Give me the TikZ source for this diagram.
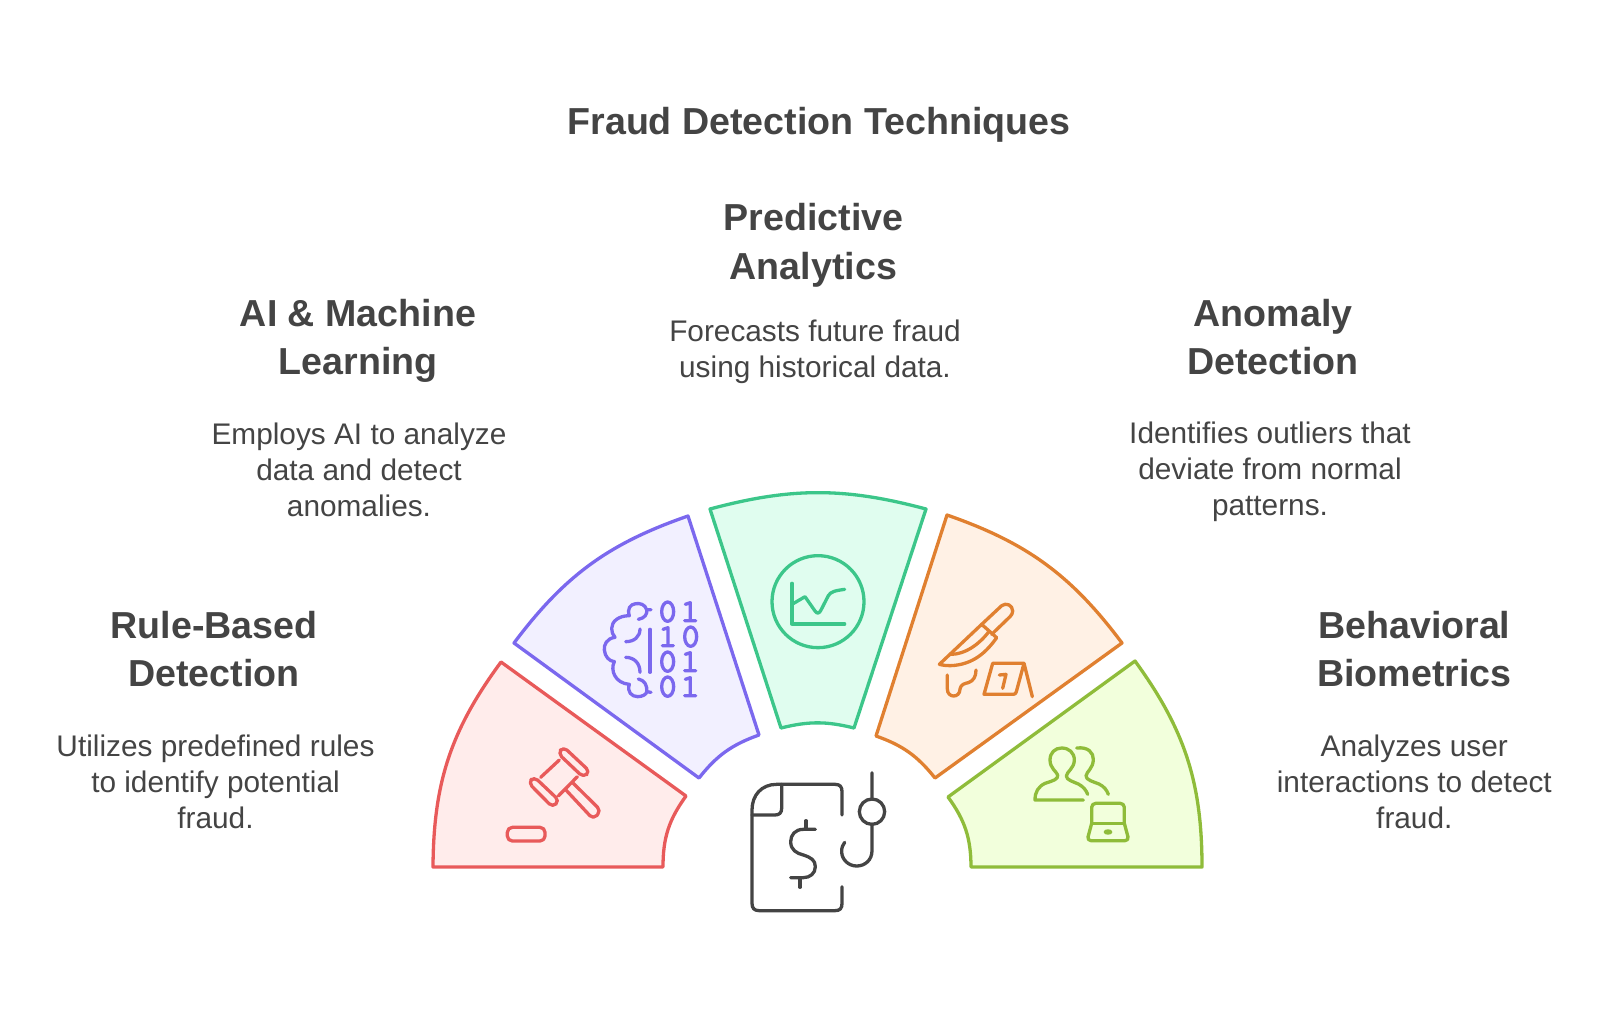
\documentclass[tikz,border=0pt]{standalone}
\usepackage{fontspec}
\setmainfont{Liberation Sans}
\usepackage{tikz}
\usetikzlibrary{positioning}

\definecolor{ink}{HTML}{444444}
\definecolor{redline}{HTML}{E85A5A}
\definecolor{redfill}{HTML}{FFECEB}
\definecolor{blueline}{HTML}{7B68EE}
\definecolor{bluefill}{HTML}{F2F0FF}
\definecolor{greenline}{HTML}{3CC68A}
\definecolor{greenfill}{HTML}{E0FDEF}
\definecolor{orangeline}{HTML}{E08030}
\definecolor{orangefill}{HTML}{FFF1E5}
\definecolor{limeline}{HTML}{8FBC3A}
\definecolor{limefill}{HTML}{F2FFDC}

\newcommand{\bitzero}[2]{\draw[icon] (#1,#2) ellipse (18 and 29);}
\newcommand{\bitone}[2]{\draw[icon] (#1-14,#2-22) -- (#1+1,#2-27) -- (#1+1,#2+27) (#1-16,#2+27) -- (#1+17,#2+27);}

\begin{document}
\begin{tikzpicture}[
    x=1pt, y=-1pt,
    text=ink,
    heading/.style={font=\fontsize{37.6}{48.6}\selectfont\bfseries, align=center},
    note/.style={font=\fontsize{29.8}{36}\selectfont, align=center},
    sector/.style={line width=3.3pt, line join=round},
    icon/.style={line width=3.3pt, line join=round, line cap=round}
]
\useasboundingbox (0,0) rectangle (1624,1012);

% --- Titulo ---
\node[heading] (title) at (818.9,125) {Fraud Detection Techniques};

% --- Textos ---
\node[heading] (predictive) at (813.4,245) {Predictive\\Analytics};
\node[note] (predictivetext) at (815,352) {Forecasts future fraud\\using historical data.};

\node[heading] (machine) at (358,341) {AI \& Machine\\Learning};
\node[note] (machinetext) at (359,470) {Employs AI to analyze\\data and detect\\anomalies.};

\node[heading] (anomaly) at (1273,337) {Anomaly\\Detection};
\node[note] (anomalytext) at (1270,471.5) {Identifies outliers that\\deviate from normal\\patterns.};

\node[heading] (rule) at (214,649) {Rule-Based\\Detection};
\node[note] (ruletext) at (215.5,782) {Utilizes predefined rules\\to identify potential\\fraud.};

\node[heading] (behavior) at (1414.3,649) {Behavioral\\Biometrics};
\node[note] (behaviortext) at (1414.3,781.7) {Analyzes user\\interactions to detect\\fraud.};

% --- Sectores ---
\draw[sector, draw=redline, fill=redfill] (433,867) to[bend left=18] (501,662)
    -- (686,796) to[bend right=18] (663,867) -- cycle;
\draw[sector, draw=blueline, fill=bluefill] (514,643) to[bend left=17] (688,516)
    -- (759,735) to[bend right=16] (699,778) -- cycle;
\draw[sector, draw=greenline, fill=greenfill] (710,509) to[bend left=15] (926,509)
    -- (854,728) to[bend right=14] (781,728) -- cycle;
\draw[sector, draw=orangeline, fill=orangefill] (947,515) to[bend left=17] (1122,643)
    -- (935,778) to[bend right=16] (876,736) -- cycle;
\draw[sector, draw=limeline, fill=limefill] (1135,661) to[bend left=18] (1202,867)
    -- (971,867) to[bend right=18] (948,797) -- cycle;

% --- Icono central ---
\begin{scope}[shift={(740,760)}, scale=1/3, ink]
\draw[icon, draw=ink] (306,165) -- (306,95) .. controls (306,80) and (300,73) .. (285,73) -- (110,73)
    .. controls (65,73) and (36,105) .. (36,150) -- (36,430) .. controls (36,445) and (43,452) .. (58,452)
    -- (285,452) .. controls (300,452) and (306,445) .. (306,430) -- (306,380);
\draw[icon, draw=ink] (125,73) -- (125,145) .. controls (125,158) and (118,165) .. (105,165) -- (36,165);
\draw[icon, draw=ink] (226,208) -- (190,208) .. controls (165,208) and (152,225) .. (152,245)
    .. controls (152,270) and (170,280) .. (190,285) .. controls (212,292) and (226,300) .. (226,320)
    .. controls (226,340) and (210,353) .. (190,353) -- (152,353);
\draw[icon, draw=ink] (198,182) -- (198,208) (180,353) -- (180,382);
\draw[icon, draw=ink] (396,38) -- (396,118) (396,192) -- (396,272)
    .. controls (396,300) and (375,318) .. (350,318) .. controls (325,318) and (305,298) .. (305,275)
    .. controls (305,262) and (308,255) .. (314,247);
\draw[icon, draw=ink] (396,155) circle (38);
\end{scope}

% --- Mazo ---
\begin{scope}[shift={(500,740)}, scale=1/3, redline]
\draw[icon, rounded corners=5pt] (190,20) -- (270,95) -- (250,112) -- (174,40) -- cycle;
\draw[icon, rounded corners=5pt] (102,110) -- (178,182) -- (158,202) -- (85,128) -- cycle;
\draw[icon] (178,60) -- (122,112) (232,110) -- (175,168);
\draw[icon, rounded corners=5pt] (218,128) -- (303,212) -- (280,238) -- (196,148);
\draw[icon, rounded corners=5pt] (22,262) rectangle (135,303);
\end{scope}

% --- Cerebro binario ---
\begin{scope}[shift={(595,595)}, scale=1/3, blueline]
\draw[icon] (168,44) -- (155,44) .. controls (150,28) and (135,24) .. (122,26)
    .. controls (105,28) and (96,42) .. (103,62) .. controls (70,62) and (50,80) .. (50,100)
    .. controls (50,110) and (53,120) .. (60,127) .. controls (35,130) and (26,150) .. (28,165)
    .. controls (30,185) and (42,198) .. (58,200) .. controls (45,225) and (60,265) .. (103,268)
    .. controls (95,290) and (110,305) .. (128,305) .. controls (142,305) and (155,298) .. (155,290) -- (168,292);
\draw[icon] (155,44) .. controls (158,58) and (148,70) .. (130,73);
\draw[icon] (155,290) .. controls (158,272) and (148,255) .. (130,252);
\draw[icon] (92,140) .. controls (118,140) and (135,125) .. (135,102);
\draw[icon] (92,187) .. controls (118,187) and (135,205) .. (135,232);
\draw[icon] (165,103) -- (165,232);
\bitzero{218}{50} \bitone{285}{50}
\bitone{218}{125} \bitzero{287}{125}
\bitzero{218}{200} \bitone{285}{200}
\bitzero{218}{275} \bitone{285}{275}
\end{scope}

% --- Grafica ---
\begin{scope}[shift={(760,545)}, scale=1/3, greenline]
\draw[icon] (174,170) circle (138);
\draw[icon] (96,115) -- (96,237) -- (254,237);
\draw[icon] (96,178) -- (135,155) -- (165,198) .. controls (172,208) and (178,205) .. (183,195)
    -- (205,152) .. controls (212,140) and (225,137) .. (254,133);
\end{scope}

% --- Cuchillo ---
\begin{scope}[shift={(930,595)}, scale=1/3, orangeline]
\draw[icon] (155,88) -- (215,32) .. controls (228,22) and (248,30) .. (248,48)
    .. controls (248,55) and (245,60) .. (240,65) -- (185,118);
\draw[icon] (155,88) -- (200,128) .. controls (170,170) and (130,210) .. (60,212)
    .. controls (50,212) and (40,211) .. (28,208) -- (155,88);
\draw[icon] (62,178) .. controls (105,178) and (145,150) .. (175,112);
\draw[icon] (52,240) -- (52,282) .. controls (52,310) and (90,310) .. (90,282)
    .. controls (92,268) and (105,265) .. (115,263) .. controls (130,258) and (138,245) .. (138,225);
\draw[icon] (188,205) -- (282,205) -- (307,305);
\draw[icon] (188,205) -- (162,298) -- (250,298) .. controls (255,298) and (258,295) .. (259,290) -- (282,205);
\draw[icon] (208,240) -- (228,238) -- (218,280);
\end{scope}

% --- Usuarios ---
\begin{scope}[shift={(1025,740)}, scale=1/3, limeline]
\draw[icon] (175,180) -- (30,180) .. controls (30,155) and (40,140) .. (60,130)
    .. controls (85,122) and (100,118) .. (98,105) .. controls (95,95) and (75,85) .. (75,60)
    .. controls (75,38) and (90,24) .. (110,24) .. controls (132,24) and (148,38) .. (148,60)
    .. controls (148,85) and (125,95) .. (124,108) .. controls (124,120) and (145,125) .. (160,132)
    .. controls (175,140) and (183,150) .. (188,163);
\draw[icon] (155,24) .. controls (190,20) and (205,38) .. (205,58)
    .. controls (205,85) and (184,95) .. (183,108) .. controls (183,120) and (205,125) .. (222,132)
    .. controls (238,140) and (245,150) .. (250,163);
\draw[icon, rounded corners=4pt] (200,250) -- (200,190) -- (298,190) -- (298,250);
\draw[icon] (200,250) -- (298,250);
\draw[icon, rounded corners=4pt] (200,250) -- (186,302) -- (312,302) -- (298,250);
\draw[icon, fill=limeline] (249,276) ellipse (8 and 3);
\end{scope}

\end{tikzpicture}
\end{document}
